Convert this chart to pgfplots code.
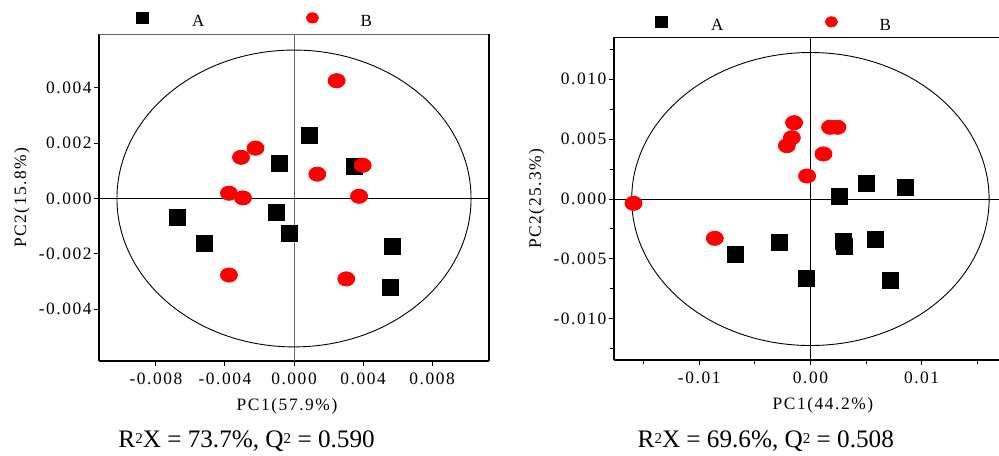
\documentclass[border=0pt]{standalone}
\usepackage{fontspec}
\setmainfont{Liberation Serif}
\newfontfamily\tickfont[LetterSpace=9]{Liberation Serif}
\usepackage{pgfplots}
\pgfplotsset{compat=1.18}

\pgfplotsset{
  pca/.style={
    scale only axis, clip=false, scaled ticks=false,
    axis x line*=bottom, axis y line*=left,
    axis line style={-, line width=1pt},
    tick align=outside, major tick length=2.5pt, minor tick length=2pt,
    tick style={black, line width=0.5pt},
    /pgf/number format/assume math mode=true,
    tick label style={font=\tickfont\fontsize{8.7}{10}\selectfont},
    label style={font=\tickfont\fontsize{8.7}{10}\selectfont},
    yticklabel style={inner sep=1pt},
    legend style={draw=none, fill=none, inner sep=0pt, nodes={inner sep=0pt, yshift=-2.5pt},
      font=\fontsize{8.5}{10}\selectfont, legend columns=4,
      /tikz/column 1/.style={column sep=22pt},
      /tikz/column 2/.style={column sep=51pt},
      /tikz/column 3/.style={column sep=21pt}},
    legend cell align=left,
  },
  grpA/.style={only marks, mark=square*, mark size=4pt, mark options={fill=black, draw=black}},
  grpB/.style={only marks, mark=*, mark size=3.55pt, mark options={fill=red, draw=red, xscale=1.2}},
}

\newcommand{\sqr}{\raisebox{0.35ex}{\fontsize{7.5}{8}\selectfont 2}}

\begin{document}
\begin{tikzpicture}
\useasboundingbox (0,0) rectangle (499.5pt,227.5pt);

% left panel
\begin{axis}[pca,
  at={(49.5pt,47pt)}, anchor=south west,
  width=195pt, height=163.5pt,
  xmin=-0.0113, xmax=0.0113, ymin=-0.00588, ymax=0.00595,
  xtick={-0.008,-0.004,0,0.004,0.008},
  xticklabels={-0.008,-0.004,0.000,0.004,0.008},
  ytick={-0.004,-0.002,0,0.002,0.004},
  yticklabels={-0.004,-0.002,0.000,0.004,0.004},
  yticklabels={-0.004,-0.002,0.000,0.002,0.004},
  xlabel={PC1(57.9\%)}, ylabel={PC2(15.8\%)},
  xlabel style={xshift=-3.5pt},
  legend style={at={(0.0949,1)}, anchor=west, yshift=6.5pt},
]
\draw[gray!80!black, line width=0.5pt] (rel axis cs:0,1) -- (rel axis cs:1,1);
\draw[black, line width=0.6pt] (rel axis cs:1,0) -- (rel axis cs:1,1);
\draw[gray!80!black, line width=0.5pt] (axis cs:0,-0.00588) -- (axis cs:0,0.00595);
\draw[black, line width=0.5pt] (axis cs:-0.0113,0) -- (axis cs:0.0113,0);
\draw[black, line width=0.45pt] (axis cs:0,0) ellipse [x radius=0.01026, y radius=0.00537];
\addlegendimage{only marks, mark=square*, mark size=2.9pt, black}
\addlegendentry{A}
\addlegendimage{only marks, mark=*, mark size=2.55pt, red, mark options={xscale=1.2}}
\addlegendentry{B}
\addplot[grpA, forget plot] coordinates {
  (0.00089,0.00229) (-0.00085,0.00128) (0.00351,0.00117) (-0.00677,-0.00068)
  (-0.00103,-0.00052) (-0.00027,-0.00125) (-0.0052,-0.00161) (0.00568,-0.00173)
  (0.00556,-0.00321)};
\addplot[grpB, forget plot] coordinates {
  (0.00247,0.00426) (-0.00223,0.00182) (-0.00307,0.00149) (0.00135,0.00088)
  (0.00398,0.0012) (-0.00377,0.00019) (-0.00296,0.00002) (0.00377,0.00008)
  (-0.00377,-0.00277) (0.00303,-0.00291)};
\end{axis}

% right panel
\begin{axis}[pca,
  at={(306.85pt,47.5pt)}, anchor=south west,
  width=192.65pt, height=161.35pt,
  xmin=-0.01769, xmax=0.01696, ymin=-0.01344, ymax=0.0135,
  xtick={-0.01,0,0.01}, xticklabels={-0.01,0.00,0.01},
  ytick={-0.01,-0.005,0,0.005,0.01},
  yticklabels={-0.010,-0.005,0.000,0.005,0.010},
  minor xtick={-0.015,-0.005,0.005,0.015},
  minor ytick={-0.0125,-0.0075,-0.0025,0.0025,0.0075,0.0125},
  xlabel={PC1(44.2\%)}, ylabel={PC2(25.3\%)},
  xlabel style={xshift=8.3pt},
  legend style={at={(0.1072,1)}, anchor=west, yshift=6.15pt},
]
\draw[black, line width=0.5pt] (rel axis cs:0,1) -- (rel axis cs:1,1);
\draw[black, line width=0.5pt] (axis cs:0,-0.01344) -- (axis cs:0,0.0135);
\draw[black, line width=0.5pt] (axis cs:-0.01769,0) -- (axis cs:0.01696,0);
\draw[black, line width=0.45pt] (axis cs:0,0) ellipse [x radius=0.01607, y radius=0.01223];
\addlegendimage{only marks, mark=square*, mark size=2.9pt, black}
\addlegendentry{A}
\addlegendimage{only marks, mark=*, mark size=2.55pt, red, mark options={xscale=1.2}}
\addlegendentry{B}
\addplot[grpA, forget plot] coordinates {
  (0.00264,0.00023) (0.00507,0.00131) (0.00858,0.00098) (-0.00677,-0.00462)
  (-0.00275,-0.00362) (0.00294,-0.00351) (0.00303,-0.00392) (0.00582,-0.00337)
  (-0.00032,-0.00662) (0.00719,-0.00679)};
\addplot[grpB, forget plot] coordinates {
  (-0.01591,-0.00036) (-0.00147,0.00637) (-0.00167,0.00512) (-0.00212,0.00445)
  (0.00177,0.00599) (0.00243,0.00599) (0.00117,0.00376) (-0.0003,0.00192)
  (-0.0086,-0.00328)};
\end{axis}

\node[font=\fontsize{12.6}{14}\selectfont] at (123.3pt,7pt)
  {R\sqr X = 73.7\%, Q\sqr{} = 0.590};
\node[font=\fontsize{12.6}{14}\selectfont] at (382.9pt,7pt)
  {R\sqr X = 69.6\%, Q\sqr{} = 0.508};
\end{tikzpicture}
\end{document}
